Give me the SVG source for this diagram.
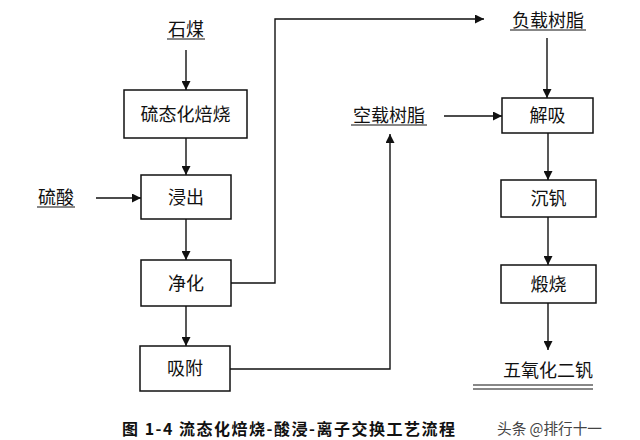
<svg xmlns="http://www.w3.org/2000/svg" width="640" height="440" viewBox="0 0 640 440">
<defs>
<marker id="ah" viewBox="0 0 10 10" refX="10" refY="5" markerWidth="9" markerHeight="9" markerUnits="userSpaceOnUse" orient="auto">
<path d="M0,0 L10,5 L0,10 z" fill="#111"/>
</marker>
<style>
.box{fill:#fff;stroke:#111;stroke-width:1.5}
.t{font-family:"Noto Sans CJK SC","Noto Sans",sans-serif;font-size:18px;fill:#111;text-anchor:middle}
.c{fill:none;stroke:#111;stroke-width:1.4}
.u{stroke:#111;stroke-width:1.2}
</style>
</defs>
<rect width="640" height="440" fill="#fff"/>
<g id="connectors">
<line class="c" x1="186" y1="50" x2="186" y2="90" marker-end="url(#ah)"/>
<line class="c" x1="186" y1="138" x2="186" y2="175" marker-end="url(#ah)"/>
<line class="c" x1="96" y1="198" x2="141" y2="198" marker-end="url(#ah)"/>
<line class="c" x1="186" y1="219" x2="186" y2="260" marker-end="url(#ah)"/>
<line class="c" x1="186" y1="306" x2="186" y2="346" marker-end="url(#ah)"/>
<polyline class="c" points="231,283 275,283 275,19 484,19" marker-end="url(#ah)"/>
<polyline class="c" points="230,369 390,369 390,134" marker-end="url(#ah)"/>
<line class="c" x1="547" y1="38" x2="547" y2="98" marker-end="url(#ah)"/>
<line class="c" x1="444" y1="116" x2="502" y2="116" marker-end="url(#ah)"/>
<line class="c" x1="548" y1="133" x2="548" y2="180" marker-end="url(#ah)"/>
<line class="c" x1="548" y1="217" x2="548" y2="265" marker-end="url(#ah)"/>
<line class="c" x1="548" y1="303" x2="548" y2="350" marker-end="url(#ah)"/>
</g>
<g id="n-shimei"><text class="t" x="186" y="36">石煤</text><line class="u" x1="167" y1="39" x2="205" y2="39"/></g>
<g id="n-roast"><rect class="box" x="124" y="90" width="123" height="48"/><text class="t" x="185.5" y="121">硫态化焙烧</text></g>
<g id="n-acid"><text class="t" x="56" y="204">硫酸</text><line class="u" x1="37" y1="207" x2="75" y2="207"/></g>
<g id="n-leach"><rect class="box" x="141" y="175" width="90" height="44"/><text class="t" x="186" y="204">浸出</text></g>
<g id="n-purify"><rect class="box" x="141" y="260" width="90" height="46"/><text class="t" x="186" y="290">净化</text></g>
<g id="n-adsorb"><rect class="box" x="140" y="346" width="90" height="45"/><text class="t" x="185" y="375">吸附</text></g>
<g id="n-loaded"><text class="t" x="548" y="27">负载树脂</text><line class="u" x1="510" y1="30" x2="586" y2="30"/></g>
<g id="n-empty"><text class="t" x="389" y="122">空载树脂</text><line class="u" x1="351" y1="125" x2="427" y2="125"/></g>
<g id="n-desorb"><rect class="box" x="502" y="98" width="91" height="35"/><text class="t" x="547.5" y="122">解吸</text></g>
<g id="n-precip"><rect class="box" x="501" y="180" width="95" height="37"/><text class="t" x="548.5" y="205">沉钒</text></g>
<g id="n-calcine"><rect class="box" x="501" y="265" width="95" height="38"/><text class="t" x="548.5" y="291">煅烧</text></g>
<g id="n-v2o5"><text class="t" x="548" y="377">五氧化二钒</text><line class="u" x1="473" y1="385" x2="593" y2="385"/><line class="u" x1="473" y1="389" x2="593" y2="389"/></g>
<text x="122" y="435" font-family="'Noto Sans CJK SC',sans-serif" font-size="16" font-weight="bold" fill="#111" textLength="333" lengthAdjust="spacing">图 1-4 流态化焙烧-酸浸-离子交换工艺流程</text>
<text x="497" y="434" font-family="'Noto Sans CJK SC',sans-serif" font-size="15" fill="#444" textLength="105" lengthAdjust="spacingAndGlyphs">头条 @排行十一</text>
</svg>
